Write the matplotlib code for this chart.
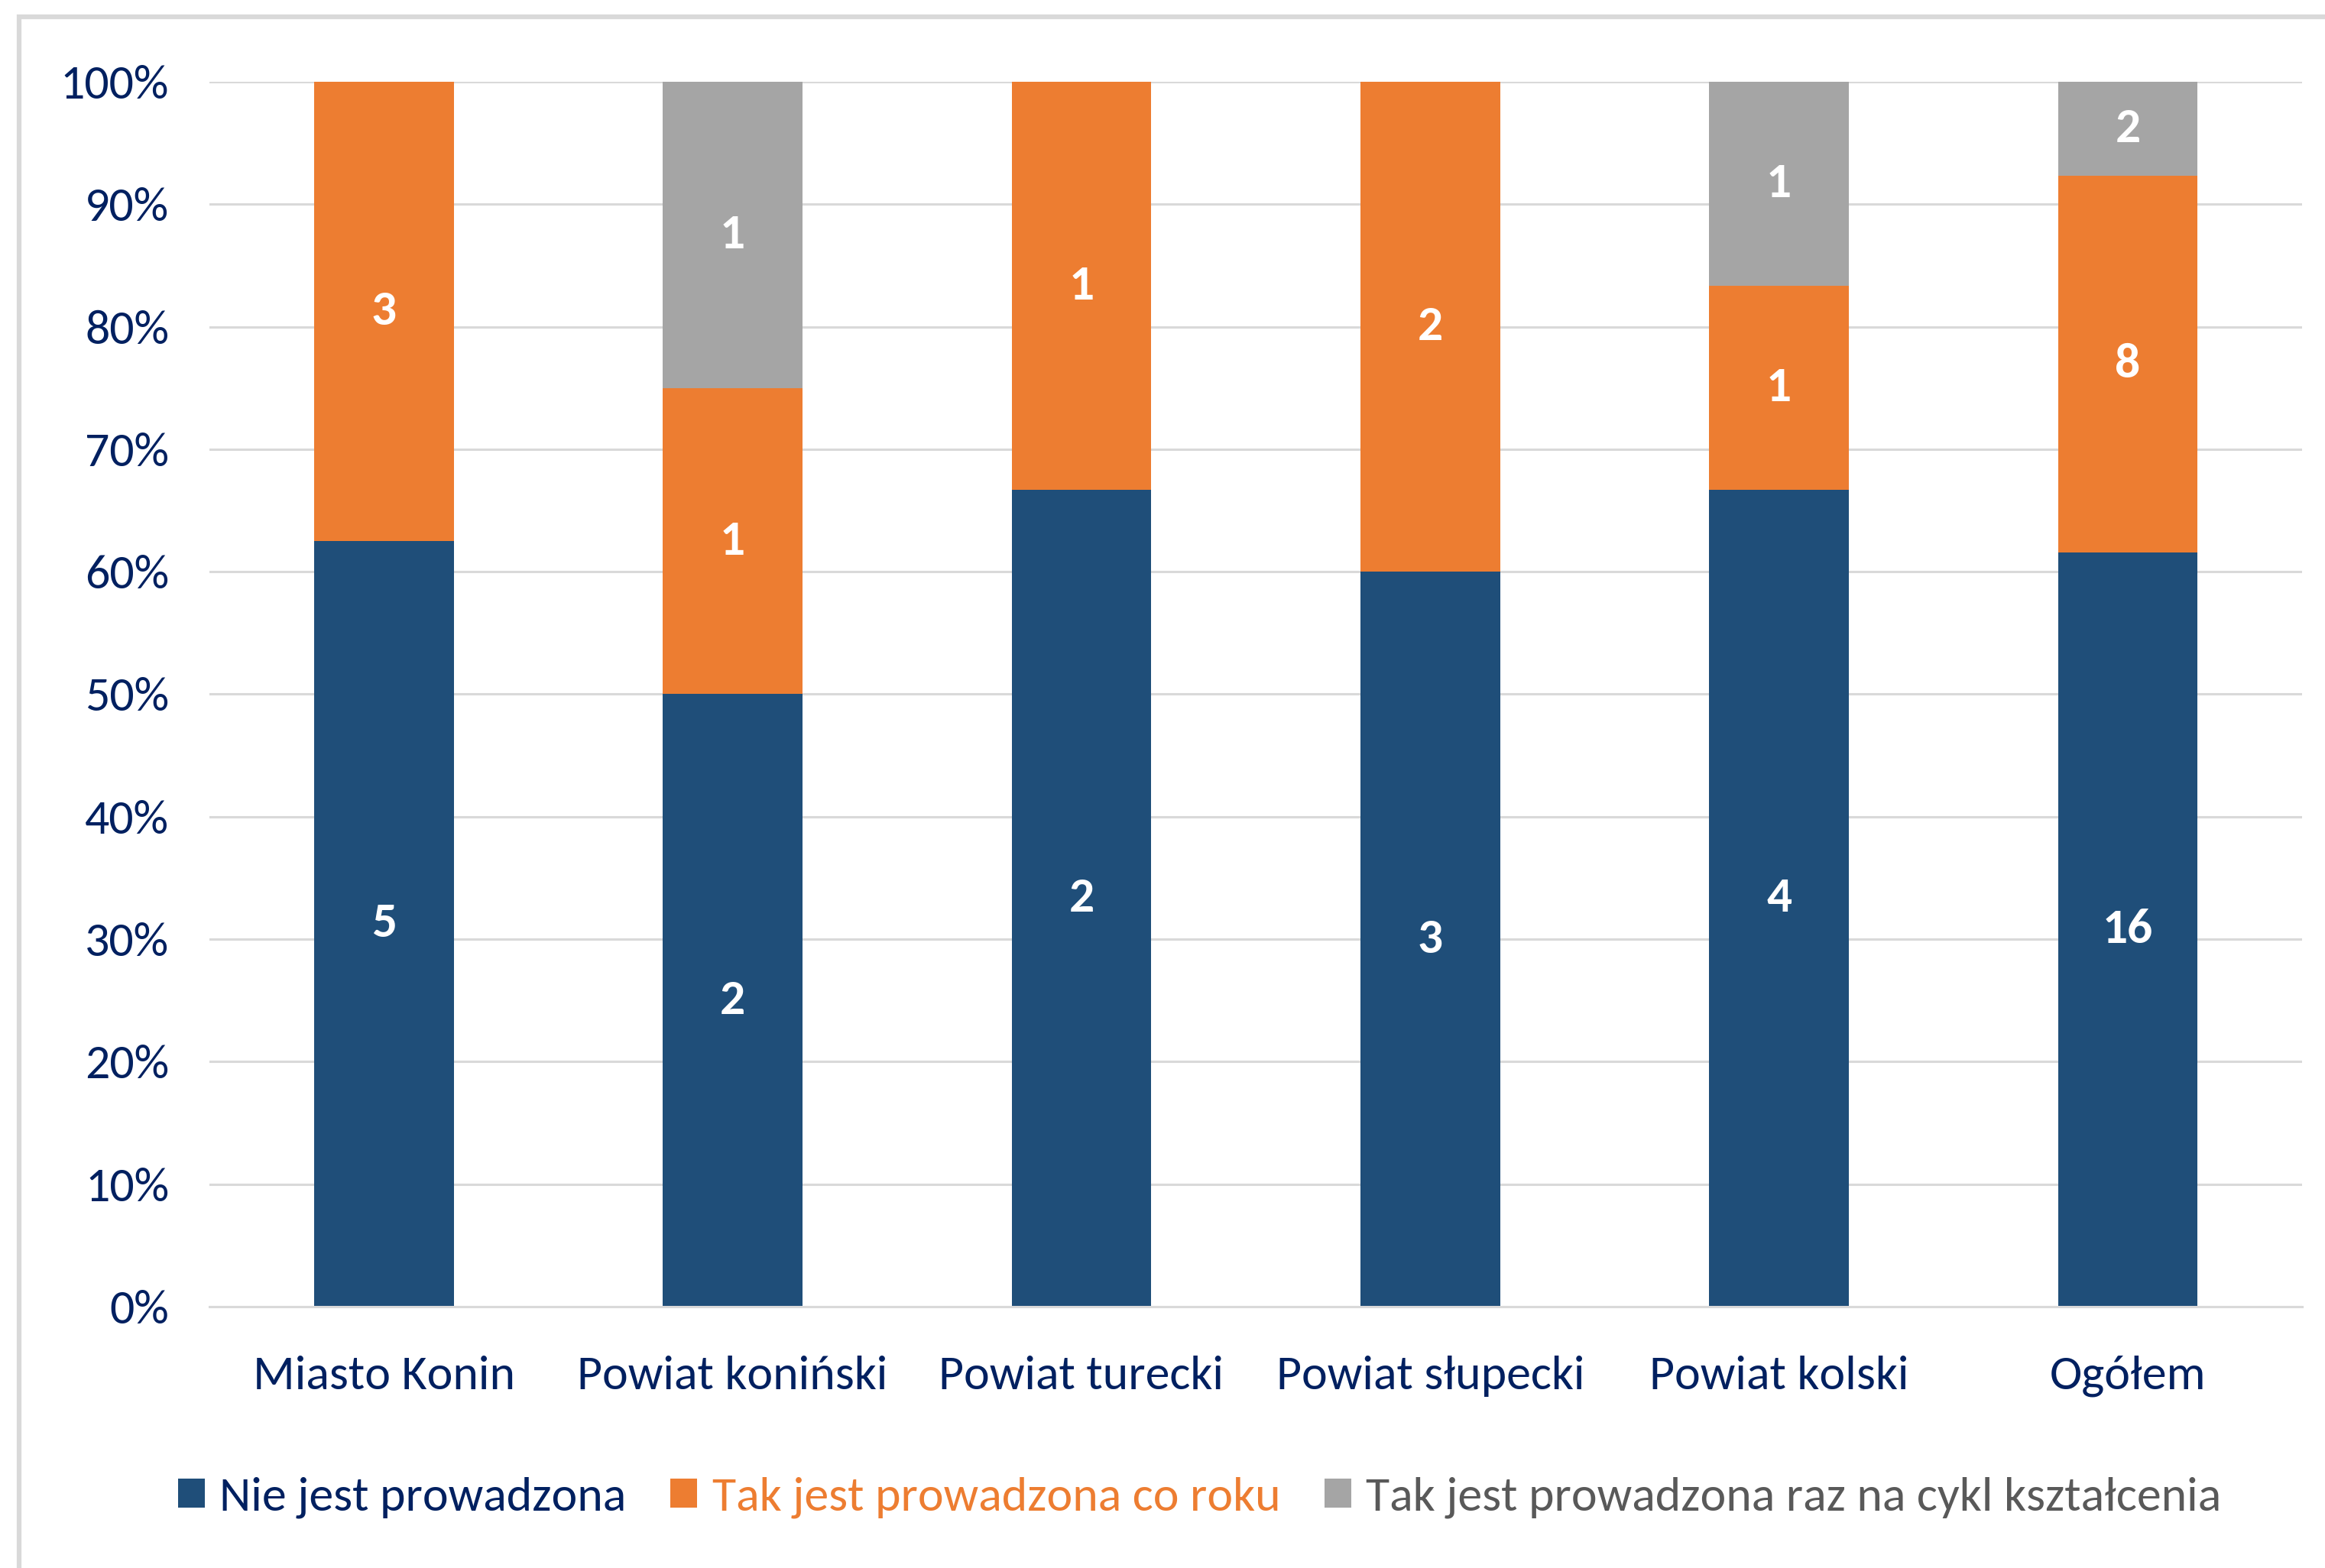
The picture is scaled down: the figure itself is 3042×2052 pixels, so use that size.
import numpy as np
import matplotlib.pyplot as plt
from matplotlib.patches import Rectangle

plt.rcParams['font.family'] = ['Carlito', 'Open Sans', 'DejaVu Sans']

# data (counts per segment)
categories = ['Miasto Konin', 'Powiat koniński', 'Powiat turecki',
              'Powiat słupecki', 'Powiat kolski', 'Ogółem']
nie = np.array([5, 2, 2, 3, 4, 16])
co_roku = np.array([3, 1, 1, 2, 1, 8])
raz_na_cykl = np.array([0, 1, 0, 0, 1, 2])
series_names = ['Nie jest prowadzona', 'Tak jest prowadzona co roku',
                'Tak jest prowadzona raz na cykl kształcenia']
colors = ['#1F4E79', '#ED7D31', '#A5A5A5']
text_colors = ['#002060', '#ED7D31', '#595959']
navy = '#002060'

fig = plt.figure(figsize=(30.42, 20.52), dpi=100)
# light gray chart frame
fig.patches.append(Rectangle((25/3042, -0.1), 1.2, 1 - 22/2052 + 0.1,
                             transform=fig.transFigure, fill=False,
                             edgecolor='#D9D9D9', linewidth=4.5))

ax = fig.add_axes([0.0901, 0.1667, 0.9001, 0.7812])

total = nie + co_roku + raz_na_cykl
series = [nie, co_roku, raz_na_cykl]
x = np.arange(len(categories))
bottom = np.zeros(len(categories))
for vals, col, name in zip(series, colors, series_names):
    pct = vals / total * 100
    ax.bar(x, pct, 0.4, bottom=bottom, color=col, label=name, zorder=2)
    for xi, b, p, v in zip(x, bottom, pct, vals):
        if v > 0:
            ax.text(xi, b + p / 2, str(v), ha='center', va='center',
                    color='white', fontsize=47, fontweight='bold', zorder=3)
    bottom += pct

ax.set_xlim(-0.5, len(categories) - 0.5)
ax.set_ylim(0, 100)
ax.set_yticks(np.arange(0, 101, 10))
ax.set_yticklabels(['{0:d}%'.format(v) for v in range(0, 101, 10)])
ax.set_xticks(x)
ax.set_xticklabels(categories)
ax.tick_params(axis='both', length=0, labelsize=46, labelcolor=navy)
ax.tick_params(axis='y', pad=38)
ax.tick_params(axis='x', pad=46)
ax.grid(axis='y', color='#D9D9D9', linewidth=2.2, zorder=0)
for s in ['top', 'right', 'left']:
    ax.spines[s].set_visible(False)
ax.spines['bottom'].set_color('#D9D9D9')
ax.spines['bottom'].set_linewidth(2.2)

leg = fig.legend(loc='center', bbox_to_anchor=(0.516, 1 - 1960/2052), ncol=3,
                 frameon=False, fontsize=46, handlelength=0.55,
                 handleheight=0.55, handletextpad=0.3, columnspacing=0.9)
for t, c in zip(leg.get_texts(), text_colors):
    t.set_color(c)

fig.savefig('out.png', dpi=100)
